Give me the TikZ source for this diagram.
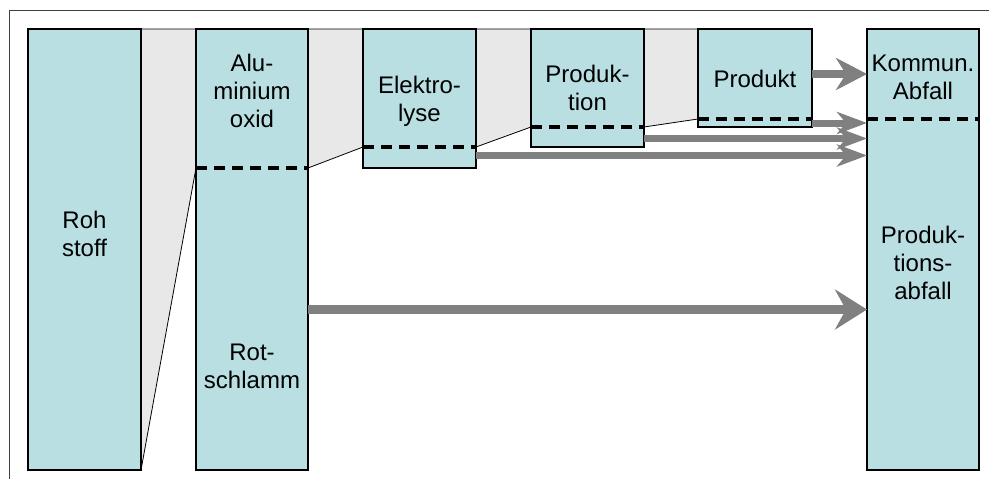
\documentclass[tikz,border=0pt]{standalone}
\usepackage{fontspec}
\setmainfont{Liberation Sans}
\usetikzlibrary{arrows.meta}
\definecolor{boxfill}{HTML}{B9DFE2}
\definecolor{gapfill}{HTML}{E8E8E8}
\definecolor{arrgray}{HTML}{808080}
\definecolor{framegray}{HTML}{404040}
\begin{document}
\begin{tikzpicture}[x=1pt,y=-1pt,
  stage/.style={draw=black, line width=2.6pt, fill=boxfill, inner sep=0pt, outer sep=0pt},
  gap/.style={fill=gapfill, draw=black, line width=0.8pt},
  split/.style={draw=black, line width=3.5pt, dash pattern=on 11pt off 7pt},
  flow/.style={draw=arrgray, line width=8pt, -{Stealth[length=31pt,width=32pt,inset=10pt]}},
  flowsmall/.style={draw=arrgray, line width=7pt, -{Stealth[length=30pt,width=22pt,inset=9pt]}},
  flowbig/.style={draw=arrgray, line width=9pt, -{Stealth[length=32pt,width=40pt,inset=11pt]}},
  lbl/.style={font=\fontsize{24}{28}\selectfont, align=center, inner sep=0pt}
]
\useasboundingbox (0,0) rectangle (989,479);
% frame
\draw[framegray, line width=1.4pt] (9.5,479) -- (9.5,10.5) -- (989,10.5);

% box centres
\coordinate (cRoh) at (84.5,249.5);
\coordinate (cAlu) at (252,249.5);
\coordinate (cEl) at (419.5,98.5);
\coordinate (cPr) at (587.5,88);
\coordinate (cPt) at (755,78);
\coordinate (cAb) at (923,249.5);

% split-line end points
\coordinate (dAlu) at (196,168);
\coordinate (dAluR) at (308,168);
\coordinate (dEl) at (363,147);
\coordinate (dElR) at (476,147);
\coordinate (dPr) at (531,127);
\coordinate (dPrR) at (644,127);
\coordinate (dPt) at (698,119);
\coordinate (dPtR) at (812,119);
\coordinate (dAb) at (867,119);
\coordinate (dAbR) at (979,119);

% gray gaps (drawn first)
\filldraw[gap] (141,29) -- (196,29) -- (dAlu) -- (141,470) -- cycle;
\filldraw[gap] (308,29) -- (363,29) -- (dEl) -- (dAluR) -- cycle;
\filldraw[gap] (476,29) -- (531,29) -- (dPr) -- (dElR) -- cycle;
\filldraw[gap] (644,29) -- (698,29) -- (dPt) -- (dPrR) -- cycle;

\node[stage, minimum width=113pt, minimum height=441pt] (roh) at (cRoh) {};
\node[stage, minimum width=112pt, minimum height=441pt] (alu) at (cAlu) {};
\node[stage, minimum width=113pt, minimum height=139pt] (elek) at (cEl) {};
\node[stage, minimum width=113pt, minimum height=118pt] (prod) at (cPr) {};
\node[stage, minimum width=114pt, minimum height=98pt] (produkt) at (cPt) {};
\node[stage, minimum width=112pt, minimum height=441pt] (abfall) at (cAb) {};

% dashed splits
\draw[split] (dAlu) -- (dAluR);
\draw[split] (dEl) -- (dElR);
\draw[split] (dPr) -- (dPrR);
\draw[split] (dPt) -- (dPtR);
\draw[split] (dAb) -- (dAbR);

% flows
\coordinate (y1) at (0,74);
\coordinate (y2) at (0,123);
\coordinate (y3) at (0,138.5);
\coordinate (y4) at (0,155.5);
\coordinate (y5) at (0,309.5);
\draw[flow] (produkt.east |- y1) -- (abfall.west |- y1);
\draw[flowsmall] (produkt.east |- y2) -- (abfall.west |- y2);
\draw[flowsmall] (prod.east |- y3) -- (abfall.west |- y3);
\draw[flowsmall] (elek.east |- y4) -- (abfall.west |- y4);
\draw[flowbig] (alu.east |- y5) -- (abfall.west |- y5);

% labels
\node[lbl] (tRoh) at (84.5,234.4) {Roh\\stoff};
\node[lbl] (tAlu) at (252,91.4) {Alu-\\minium\\oxid};
\node[lbl] (tRot) at (252,366.4) {Rot-\\schlamm};
\node[lbl] (tEl) at (419.5,101.3) {Elektro-\\lyse};
\node[lbl] (tPr) at (587.5,88.1) {Produk-\\tion};
\node[lbl] (tPt) at (755,78.7) {Produkt};
\node[lbl] (tKo) at (923,77.1) {Kommun.\\Abfall};
\node[lbl] (tPa) at (923,263.1) {Produk-\\tions-\\abfall};
\end{tikzpicture}
\end{document}
